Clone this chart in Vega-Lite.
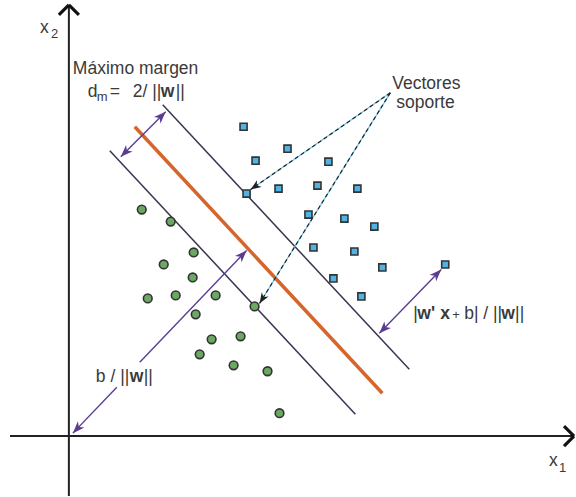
{
  "$schema": "https://vega.github.io/schema/vega-lite/v6.json",
  "width": 576,
  "height": 497,
  "autosize": {"type": "fit", "contains": "padding"},
  "padding": 0,
  "background": "white",
  "config": {"view": {"stroke": null}},
  "datasets": {
    "axes": [
      {"x": -59, "y": 0, "x2": 506, "y2": 0},
      {"x": 0, "y": -60, "x2": 0, "y2": 432}
    ],
    "chevrons": [
      {"x": -10, "y": 422, "x2": 0, "y2": 432},
      {"x": 10, "y": 422, "x2": 0, "y2": 432},
      {"x": 496, "y": 10, "x2": 506, "y2": 0},
      {"x": 496, "y": -10, "x2": 506, "y2": 0}
    ],
    "hyperplane": [{"x": 66, "y": 310, "x2": 314, "y2": 43}],
    "margins": [
      {"x": 94, "y": 332, "x2": 341, "y2": 67},
      {"x": 41, "y": 286, "x2": 287, "y2": 22}
    ],
    "purple": [
      {"x": 52, "y": 280, "x2": 97, "y2": 325},
      {"x": 4, "y": 3, "x2": 48, "y2": 49},
      {"x": 71, "y": 74, "x2": 178, "y2": 186},
      {"x": 311, "y": 103, "x2": 373, "y2": 167}
    ],
    "support": [
      {"x": 322, "y": 344, "x2": 182, "y2": 247},
      {"x": 322, "y": 344, "x2": 191, "y2": 133}
    ],
    "headsPurple": [
      {"x": 52, "y": 280, "fx": 97, "fy": 325},
      {"x": 97, "y": 325, "fx": 52, "fy": 280},
      {"x": 4, "y": 3, "fx": 48, "fy": 49},
      {"x": 178, "y": 186, "fx": 71, "fy": 74},
      {"x": 311, "y": 103, "fx": 373, "fy": 167},
      {"x": 373, "y": 167, "fx": 311, "fy": 103}
    ],
    "headsDark": [
      {"x": 182, "y": 247, "fx": 322, "fy": 344},
      {"x": 191, "y": 133, "fx": 322, "fy": 344}
    ],
    "squares": [
      {"x": 175, "y": 310}, {"x": 219, "y": 288}, {"x": 187, "y": 276},
      {"x": 260, "y": 275}, {"x": 210, "y": 248}, {"x": 249, "y": 251},
      {"x": 289, "y": 248}, {"x": 178, "y": 243}, {"x": 240, "y": 222},
      {"x": 276, "y": 218}, {"x": 306, "y": 210}, {"x": 245, "y": 189},
      {"x": 286, "y": 185}, {"x": 314, "y": 169}, {"x": 265, "y": 158},
      {"x": 293, "y": 140}, {"x": 377, "y": 172}
    ],
    "circles": [
      {"x": 73, "y": 227}, {"x": 102, "y": 215}, {"x": 125, "y": 184},
      {"x": 95, "y": 172}, {"x": 124, "y": 159}, {"x": 79, "y": 138},
      {"x": 107, "y": 141}, {"x": 147, "y": 141}, {"x": 186, "y": 130},
      {"x": 127, "y": 122}, {"x": 143, "y": 97}, {"x": 172, "y": 100},
      {"x": 131, "y": 82}, {"x": 165, "y": 71}, {"x": 199, "y": 65},
      {"x": 211, "y": 23}
    ],
    "textRegular": [
      {"label": "x", "x": -29, "y": 404},
      {"label": "x", "x": 481, "y": -30},
      {"label": "Máximo margen", "x": 4, "y": 363},
      {"label": "d", "x": 19, "y": 340},
      {"label": "=", "x": 41, "y": 340},
      {"label": "2/ ||", "x": 64, "y": 340},
      {"label": "||", "x": 107, "y": 340},
      {"label": "Vectores", "x": 324, "y": 348},
      {"label": "soporte", "x": 328, "y": 329},
      {"label": "b / ||", "x": 27, "y": 54},
      {"label": "||", "x": 75, "y": 54},
      {"label": "|", "x": 345, "y": 117},
      {"label": "b| / ||", "x": 396, "y": 117},
      {"label": "||", "x": 447, "y": 117}
    ],
    "textBold": [
      {"label": "w", "x": 92, "y": 340},
      {"label": "w", "x": 61, "y": 54},
      {"label": "w'", "x": 349, "y": 117},
      {"label": "x", "x": 372, "y": 117},
      {"label": "w", "x": 433, "y": 117}
    ],
    "textSub": [
      {"label": "2", "x": -18, "y": 399},
      {"label": "1", "x": 491, "y": -36},
      {"label": "m", "x": 28, "y": 336},
      {"label": "+", "x": 384, "y": 117}
    ]
  },
  "encoding": {
    "x": {"field": "x", "type": "quantitative", "scale": {"domain": [-69, 507], "nice": false, "zero": false}, "axis": null},
    "y": {"field": "y", "type": "quantitative", "scale": {"domain": [-60, 437], "nice": false, "zero": false}, "axis": null}
  },
  "layer": [
    {
      "data": {"name": "axes"},
      "mark": {"type": "rule", "color": "#222222", "strokeWidth": 2},
      "encoding": {"x2": {"field": "x2"}, "y2": {"field": "y2"}}
    },
    {
      "data": {"name": "chevrons"},
      "mark": {"type": "rule", "color": "#111111", "strokeWidth": 3.2},
      "encoding": {"x2": {"field": "x2"}, "y2": {"field": "y2"}}
    },
    {
      "data": {"name": "margins"},
      "mark": {"type": "rule", "color": "#3a3450", "strokeWidth": 1.5},
      "encoding": {"x2": {"field": "x2"}, "y2": {"field": "y2"}}
    },
    {
      "data": {"name": "hyperplane"},
      "mark": {"type": "rule", "color": "#d6652b", "strokeWidth": 3.5},
      "encoding": {"x2": {"field": "x2"}, "y2": {"field": "y2"}}
    },
    {
      "data": {"name": "purple"},
      "mark": {"type": "rule", "color": "#5b3c92", "strokeWidth": 1.4},
      "encoding": {"x2": {"field": "x2"}, "y2": {"field": "y2"}}
    },
    {
      "data": {"name": "support"},
      "mark": {"type": "rule", "color": "#6cc6ec", "strokeWidth": 1.2},
      "encoding": {"x2": {"field": "x2"}, "y2": {"field": "y2"}}
    },
    {
      "data": {"name": "support"},
      "mark": {"type": "rule", "color": "#222222", "strokeWidth": 1.2, "strokeDash": [4, 3]},
      "encoding": {"x2": {"field": "x2"}, "y2": {"field": "y2"}}
    },
    {
      "data": {"name": "headsPurple"},
      "transform": [{"calculate": "atan2(datum.x - datum.fx, datum.y - datum.fy) * 180 / PI", "as": "angle"}],
      "mark": {"type": "point", "filled": true, "color": "#5b3c92", "opacity": 1, "shape": "M0,0L0.38,1L0,0.72L-0.38,1Z", "size": 576},
      "encoding": {"angle": {"field": "angle", "type": "quantitative", "scale": null}}
    },
    {
      "data": {"name": "headsDark"},
      "transform": [{"calculate": "atan2(datum.x - datum.fx, datum.y - datum.fy) * 180 / PI", "as": "angle"}],
      "mark": {"type": "point", "filled": true, "color": "#222222", "opacity": 1, "shape": "M0,0L0.38,1L0,0.72L-0.38,1Z", "size": 450},
      "encoding": {"angle": {"field": "angle", "type": "quantitative", "scale": null}}
    },
    {
      "data": {"name": "squares"},
      "mark": {"type": "square", "filled": true, "fill": "#4fb3e4", "stroke": "#333333", "strokeWidth": 1.6, "opacity": 1, "size": 50}
    },
    {
      "data": {"name": "circles"},
      "mark": {"type": "circle", "filled": true, "fill": "#6aa864", "stroke": "#333333", "strokeWidth": 1.6, "opacity": 1, "size": 75}
    },
    {
      "data": {"name": "textRegular"},
      "mark": {"type": "text", "align": "left", "baseline": "alphabetic", "font": "Liberation Sans", "fontSize": 17.5, "color": "#3a3a3a"},
      "encoding": {"text": {"field": "label", "type": "nominal"}}
    },
    {
      "data": {"name": "textBold"},
      "mark": {"type": "text", "align": "left", "baseline": "alphabetic", "font": "Liberation Sans", "fontSize": 17.5, "fontWeight": "bold", "color": "#3a3a3a"},
      "encoding": {"text": {"field": "label", "type": "nominal"}}
    },
    {
      "data": {"name": "textSub"},
      "mark": {"type": "text", "align": "left", "baseline": "alphabetic", "font": "Liberation Sans", "fontSize": 13, "color": "#3a3a3a"},
      "encoding": {"text": {"field": "label", "type": "nominal"}}
    }
  ]
}
